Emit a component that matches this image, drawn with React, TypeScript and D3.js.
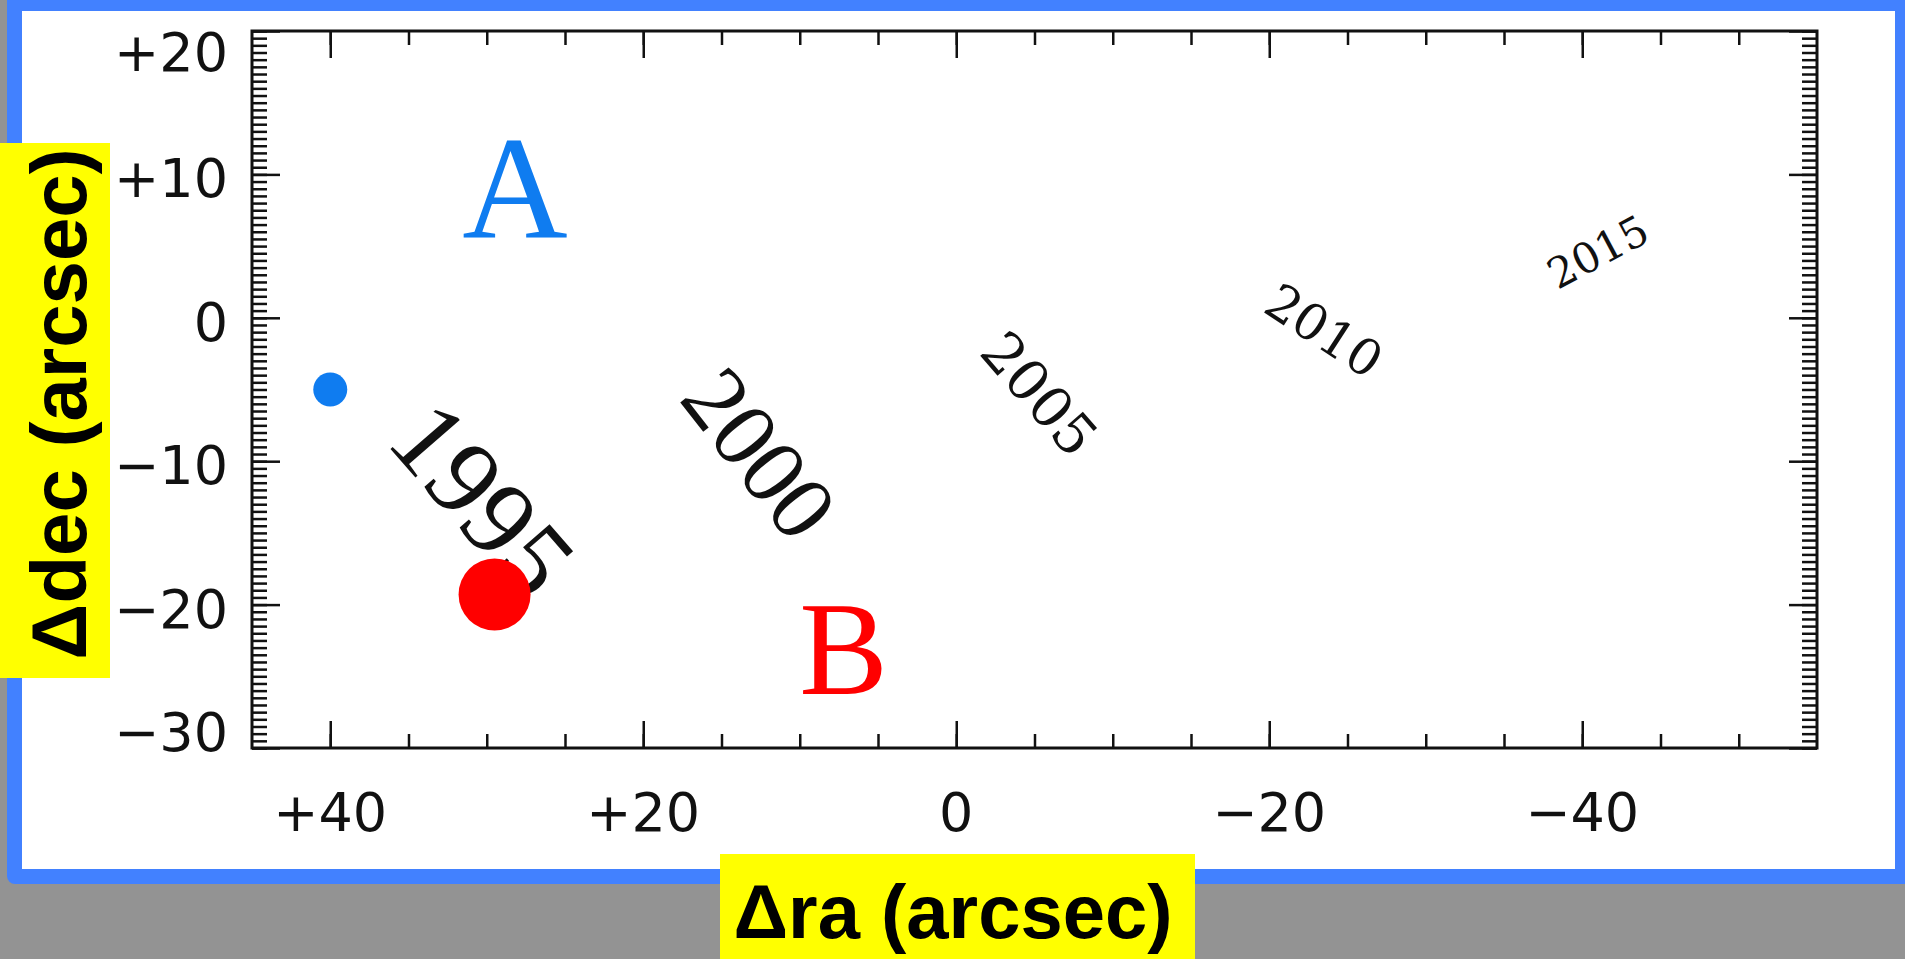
import React, { useEffect, useRef } from 'react';
import * as d3 from 'd3';

// axis values
const raTicks = [40, 20, 0, -20, -40];
const decTicks = [20, 10, 0, -10, -20, -30];

// the two stars (dot + letter)
const starNames = ['A', 'B'];
const starRa = [40, 29.5];
const starDec = [-5, -19.3];
const starLabelRa = [28.2, 7.2];
const starLabelDec = [5.6, -26.2];

// years along the track
const years = ['1995', '2000', '2005', '2010', '2015'];
const yearRa = [30.2, 12.5, -5.3, -23.5, -41];
const yearDec = [-12.6, -9.4, -5.3, -0.9, 4.6];

// styles
const starColors = ['#0f7cf0', '#ff0000'];
const starRadius = [17, 36];
const starLabelSize = [146, 133];
const yearAngle = [49, 52, 49, 33, -28];
const yearSize = [108, 93, 56, 50, 42];
const yearFont = ['Liberation Serif', 'Liberation Serif', 'DejaVu Serif', 'DejaVu Serif', 'DejaVu Serif'];

const fmt = (v: number) => (v > 0 ? '+' + v : v < 0 ? '\u2212' + Math.abs(v) : '0');

export default function App() {
    const ref = useRef<SVGSVGElement>(null);

    useEffect(() => {
        const svg = d3.select(ref.current);
        svg.selectAll('*').remove();

        const W = 1905, H = 959;
        const left = 252, right = 1817, top = 31, bottom = 748;

        // background / frame of the slide
        svg.append('rect').attr('width', W).attr('height', H).attr('fill', '#939393');
        svg.append('rect')
            .attr('x', 7).attr('y', -20)
            .attr('width', W).attr('height', 904)
            .attr('rx', 8)
            .attr('fill', '#4281ff');
        svg.append('rect')
            .attr('x', 22).attr('y', 11)
            .attr('width', 1873).attr('height', 858)
            .attr('fill', '#ffffff');

        const x = d3.scaleLinear().domain([45, -55]).range([left, right]);
        const y = d3.scaleLinear().domain([-30, 20]).range([bottom, top]);

        const raMinor = d3.range(40, -55, -5);
        const decMinor = d3.range(-30, 20.01, 0.5);

        const tickStyle = (g: any) => {
            g.select('.domain').remove();
            g.selectAll('.tick line').attr('stroke', '#111').attr('stroke-width', 2.5);
        };

        const axes = [
            { ax: d3.axisTop(x), t: `translate(0,${bottom})`, major: raTicks, minor: raMinor, big: 27, small: 14 },
            { ax: d3.axisBottom(x), t: `translate(0,${top})`, major: raTicks, minor: raMinor, big: 27, small: 14 },
            { ax: d3.axisRight(y), t: `translate(${left},0)`, major: decTicks, minor: decMinor, big: 28, small: 15 },
            { ax: d3.axisLeft(y), t: `translate(${right},0)`, major: decTicks, minor: decMinor, big: 28, small: 15 },
        ];
        axes.forEach(a => {
            svg.append('g').attr('transform', a.t)
                .call(a.ax.tickValues(a.minor).tickSize(a.small).tickFormat(() => '') as any)
                .call(tickStyle);
            svg.append('g').attr('transform', a.t)
                .call(a.ax.tickValues(a.major).tickSize(a.big).tickFormat(() => '') as any)
                .call(tickStyle);
        });

        // plot frame
        svg.append('rect')
            .attr('x', left).attr('y', top)
            .attr('width', right - left).attr('height', bottom - top)
            .attr('fill', 'none').attr('stroke', '#111').attr('stroke-width', 3);

        // tick labels
        svg.append('g').selectAll('text').data(raTicks).enter().append('text')
            .attr('x', d => x(d)).attr('y', 831)
            .attr('text-anchor', 'middle')
            .attr('font-family', 'DejaVu Sans').attr('font-size', 54).attr('fill', '#111')
            .text(fmt);

        svg.append('g').selectAll('text').data(decTicks).enter().append('text')
            .attr('x', 228)
            .attr('y', d => y(d) + 23 + (d === 20 ? 17 : d === -30 ? -20 : 0))
            .attr('text-anchor', 'end')
            .attr('font-family', 'DejaVu Sans').attr('font-size', 54).attr('fill', '#111')
            .text(fmt);

        // year labels
        svg.append('g').selectAll('text').data(years).enter().append('text')
            .attr('transform', (d, i) => `translate(${x(yearRa[i])},${y(yearDec[i])}) rotate(${yearAngle[i]})`)
            .attr('text-anchor', 'middle')
            .attr('dy', '0.35em')
            .attr('font-family', (d, i) => yearFont[i])
            .attr('font-size', (d, i) => yearSize[i])
            .attr('fill', '#111')
            .text(d => d);

        // star letters
        svg.append('g').selectAll('text').data(starNames).enter().append('text')
            .attr('x', (d, i) => x(starLabelRa[i]))
            .attr('y', (d, i) => y(starLabelDec[i]))
            .attr('text-anchor', 'middle')
            .attr('font-family', 'Liberation Serif')
            .attr('font-size', (d, i) => starLabelSize[i])
            .attr('fill', (d, i) => starColors[i])
            .text(d => d);

        // star dots
        svg.append('g').selectAll('circle').data(starNames).enter().append('circle')
            .attr('cx', (d, i) => x(starRa[i]))
            .attr('cy', (d, i) => y(starDec[i]))
            .attr('r', (d, i) => starRadius[i])
            .attr('fill', (d, i) => starColors[i]);

        // axis titles on yellow boxes
        svg.append('rect').attr('x', 0).attr('y', 143).attr('width', 110).attr('height', 535).attr('fill', '#ffff00');
        svg.append('text')
            .attr('transform', 'translate(86,404) rotate(-90)')
            .attr('text-anchor', 'middle')
            .attr('font-family', 'Liberation Sans').attr('font-weight', 'bold')
            .attr('font-size', 78).attr('fill', '#000')
            .text('\u0394dec (arcsec)');

        svg.append('rect').attr('x', 720).attr('y', 854).attr('width', 475).attr('height', 110).attr('fill', '#ffff00');
        svg.append('text')
            .attr('x', 953).attr('y', 938)
            .attr('text-anchor', 'middle')
            .attr('font-family', 'Liberation Sans').attr('font-weight', 'bold')
            .attr('font-size', 76).attr('fill', '#000')
            .text('\u0394ra (arcsec)');
    }, []);

    return (
        <svg ref={ref} width={1905} height={959}
             style={{ position: 'absolute', left: 0, top: 0, display: 'block' }} />
    );
}
